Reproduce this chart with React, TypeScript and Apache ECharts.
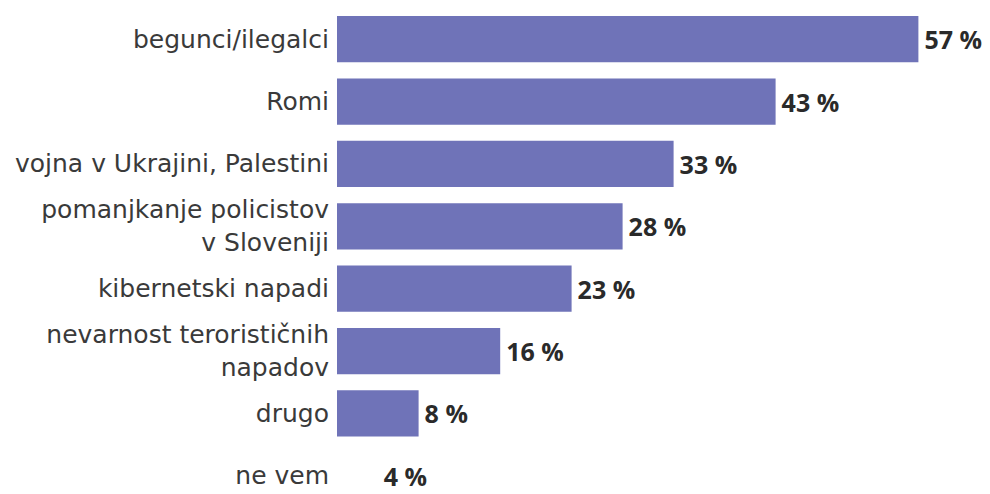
import React, { useEffect, useRef } from "react";
import * as echarts from "echarts";

const categories = [
  "begunci/ilegalci",
  "Romi",
  "vojna v Ukrajini, Palestini",
  "pomanjkanje policistov\nv Sloveniji",
  "kibernetski napadi",
  "nevarnost terorističnih\nnapadov",
  "drugo",
  "ne vem",
];
const values = [57, 43, 33, 28, 23, 16, 8, 4];
const hiddenBars = ["ne vem"];

const BAR_COLOR = "#6f73b8";

export default function App() {
  const ref = useRef<HTMLDivElement>(null);
  useEffect(() => {
    if (!ref.current) return;
    const chart = echarts.init(ref.current, null, { renderer: "svg" });
    chart.setOption({
      animation: false,
      backgroundColor: "#ffffff",
      grid: { left: 337, right: 41, top: 8, height: 499, containLabel: false },
      xAxis: {
        type: "value",
        min: 0,
        max: 60,
        show: false,
      },
      yAxis: {
        type: "category",
        inverse: true,
        data: categories,
        axisLine: { show: false },
        axisTick: { show: false },
        splitLine: { show: false },
        axisLabel: {
          margin: 8,
          fontSize: 25,
          lineHeight: 33,
          color: "#3a3a3a",
          fontFamily: "'DejaVu Sans', sans-serif",
          align: "right",
        },
      },
      series: [
        {
          type: "bar",
          barCategoryGap: "26%",
          data: values.map((v, i) => ({
            value: v,
            itemStyle: {
              color: hiddenBars.includes(categories[i]) ? "rgba(0,0,0,0)" : BAR_COLOR,
            },
          })),
          label: {
            show: true,
            position: "right",
            distance: 6,
            formatter: "{c} %",
            fontSize: 25,
            fontWeight: "bold",
            color: "#2a2a2a",
            fontFamily: "'Open Sans', sans-serif",
          },
        },
      ],
    });
    return () => chart.dispose();
  }, []);
  return (
    <div style={{ width: 990, height: 494, margin: -8, overflow: "hidden" }}>
      <div ref={ref} style={{ width: 990, height: 530 }} />
    </div>
  );
}
